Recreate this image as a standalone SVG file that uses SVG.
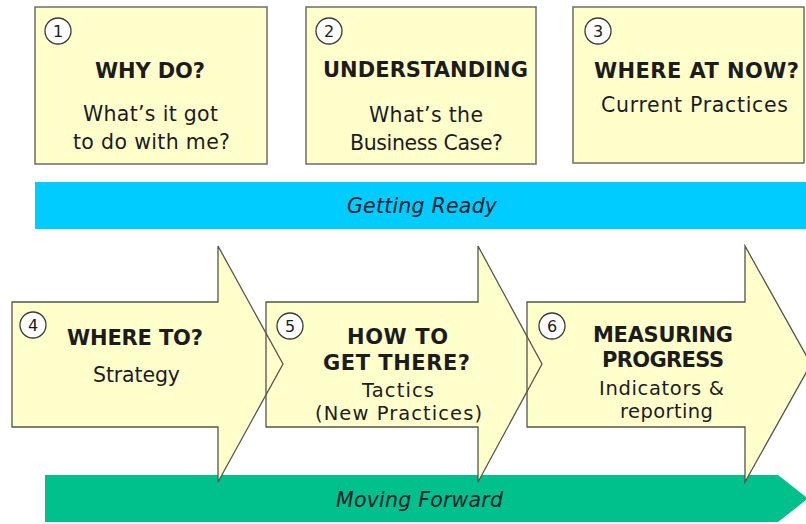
<svg xmlns="http://www.w3.org/2000/svg" xmlns:xlink="http://www.w3.org/1999/xlink" width="806" height="524" viewBox="0 0 806 524">
<style>
text{font-family:"DejaVu Sans","Verdana",sans-serif;fill:#1c1c1c;text-anchor:middle}
.h{font-weight:bold;font-size:21px}
.s{font-size:20.5px}
.t{font-size:19.5px}
.bar{font-style:italic;font-size:20.5px;fill:#15202c}
.num{font-size:16px}
.box{fill:#ffffcc;stroke:#6e6e66;stroke-width:1.5}
.afill{fill:#ffffcc;stroke:none}
.aline{fill:none;stroke:#55554f;stroke-width:1.3;stroke-linejoin:miter}
.circ{fill:#ffffff;stroke:#3a3a3a;stroke-width:1.3}
</style>
<defs>
<path id="p4" d="M12,302 H218 V246 L283,364 L218,482 V427 H12 Z"/>
<path id="p5" d="M266,302 H478 V246 L542,364 L478,482 V427 H266 Z"/>
<path id="p6" d="M527,302 H745 V246 L811,364 L745,482 V427 H527 Z"/>
</defs>
<rect width="806" height="524" fill="#ffffff"/>
<g id="getting-ready">
<rect x="35" y="182" width="771" height="47" fill="#00ccff"/>
<text class="bar" x="422" y="213" textLength="150">Getting Ready</text>
</g>
<g id="moving-forward">
<polygon points="45,475 778,475 808,498.5 778,522 45,522" fill="#00c08c"/>
<text class="bar" x="419.5" y="507" textLength="167">Moving Forward</text>
</g>
<g id="step1">
<rect class="box" x="35" y="7" width="232" height="157"/>
<circle class="circ" cx="58" cy="31" r="13"/>
<text class="num" x="58" y="37">1</text>
<text class="h" x="150" y="78" textLength="110">WHY DO?</text>
<text class="s" x="150.5" y="121" textLength="135">What’s it got</text>
<text class="s" x="151.5" y="149" textLength="157">to do with me?</text>
</g>
<g id="step2">
<rect class="box" x="306" y="7" width="230" height="157"/>
<circle class="circ" cx="329" cy="31" r="13"/>
<text class="num" x="329" y="37">2</text>
<text class="h" x="425.5" y="77" textLength="205">UNDERSTANDING</text>
<text class="s" x="426" y="122" textLength="114">What’s the</text>
<text class="s" x="426.5" y="150" textLength="153">Business Case?</text>
</g>
<g id="step3">
<rect class="box" x="573" y="7" width="231" height="156"/>
<circle class="circ" cx="598" cy="31" r="13"/>
<text class="num" x="598" y="37">3</text>
<text class="h" x="696.5" y="78" textLength="205">WHERE AT NOW?</text>
<text class="s" x="694.5" y="112" textLength="187">Current Practices</text>
</g>
<g id="step4">
<use xlink:href="#p4" class="afill"/>
<circle class="circ" cx="33" cy="325" r="13"/>
<text class="num" x="33" y="331">4</text>
<text class="h" x="135" y="345" textLength="136">WHERE TO?</text>
<text class="s" x="136.5" y="382" textLength="87">Strategy</text>
</g>
<g id="step5">
<use xlink:href="#p5" class="afill"/>
<circle class="circ" cx="290" cy="326" r="13"/>
<text class="num" x="290" y="332">5</text>
<text class="h" x="397.5" y="344" textLength="101">HOW TO</text>
<text class="h" x="396.5" y="370" textLength="147">GET THERE?</text>
<text class="t" x="398" y="397" textLength="72">Tactics</text>
<text class="t" x="398.5" y="420" textLength="167">(New Practices)</text>
</g>
<g id="step6">
<use xlink:href="#p6" class="afill"/>
<circle class="circ" cx="552" cy="326" r="13"/>
<text class="num" x="552" y="332">6</text>
<text class="h" x="663" y="342" textLength="140">MEASURING</text>
<text class="h" x="663" y="367" textLength="122">PROGRESS</text>
<text class="t" x="661.5" y="395" textLength="125">Indicators &amp;</text>
<text class="t" x="666.5" y="418" textLength="93">reporting</text>
</g>
<g id="connectors">
<use xlink:href="#p4" class="aline"/>
<use xlink:href="#p5" class="aline"/>
<use xlink:href="#p6" class="aline"/>
</g>
</svg>
